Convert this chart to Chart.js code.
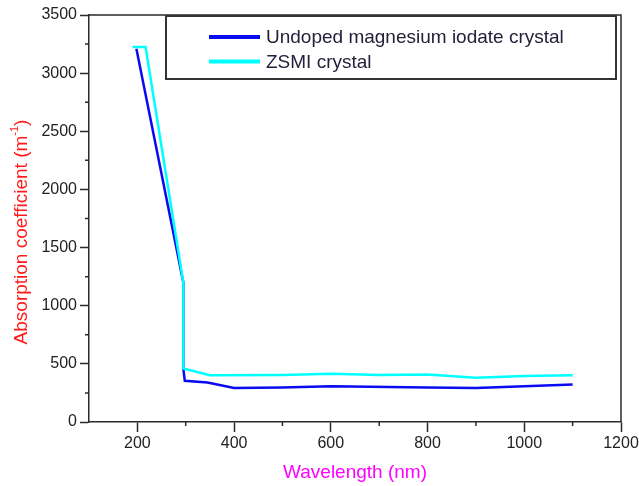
<!DOCTYPE html>
<html>
<head>
<meta charset="utf-8">
<script src="https://cdn.jsdelivr.net/npm/chart.js@4"></script>
<style>
  html, body { margin: 0; padding: 0; background: #fff; }
  #wrap { width: 639px; height: 486px; position: relative; }
</style>
</head>
<body>
<div id="wrap"><canvas id="chart"></canvas></div>
<script>
// values
const undopedWavelength = [198, 295, 295, 298, 345, 400, 500, 600, 800, 900, 1000, 1100];
const undopedAbsorption = [3210, 1200, 460, 355, 340, 292, 297, 307, 296, 293, 307, 322];
const zsmiWavelength = [190, 217, 295, 295, 350, 500, 600, 700, 800, 900, 1000, 1100];
const zsmiAbsorption = [3225, 3225, 1200, 460, 402, 405, 415, 405, 408, 380, 396, 402];
const seriesLabels = ['Undoped magnesium iodate crystal', 'ZSMI crystal'];
const xTickValues = [200, 400, 600, 800, 1000, 1200];
const xMinorValues = [300, 500, 700, 900, 1100];
const yTickValues = [0, 500, 1000, 1500, 2000, 2500, 3000, 3500];
const yMinorValues = [250, 750, 1250, 1750, 2250, 2750, 3250];

const FONT = '"Liberation Sans", Arial, sans-serif';
const AXIS = '#2a2a2a';

const toPoints = (xs, ys) => xs.map((x, i) => ({ x, y: ys[i] }));

// frame, minor ticks, axis titles and the boxed legend
const decor = {
  id: 'decor',
  afterDraw(chart) {
    const { ctx, chartArea: a, scales } = chart;
    ctx.save();
    ctx.strokeStyle = AXIS;
    ctx.lineWidth = 1.5;
    ctx.beginPath();
    ctx.moveTo(a.left, a.top);
    ctx.lineTo(a.right, a.top);
    ctx.lineTo(a.right, a.bottom);
    ctx.stroke();

    ctx.beginPath();
    xMinorValues.forEach(v => {
      const px = scales.x.getPixelForValue(v);
      ctx.moveTo(px, a.bottom);
      ctx.lineTo(px, a.bottom + 4);
    });
    yMinorValues.forEach(v => {
      const py = scales.y.getPixelForValue(v);
      ctx.moveTo(a.left, py);
      ctx.lineTo(a.left - 4, py);
    });
    ctx.stroke();

    // x title
    ctx.fillStyle = '#ff00ff';
    ctx.font = '19px ' + FONT;
    ctx.textAlign = 'center';
    ctx.textBaseline = 'middle';
    ctx.fillText('Wavelength (nm)', (a.left + a.right) / 2, 473);

    // y title with superscript
    ctx.save();
    ctx.translate(22, 232);
    ctx.rotate(-Math.PI / 2);
    ctx.fillStyle = '#ff1a1a';
    const main = 'Absorption coefficient (m';
    const sup = '-1';
    ctx.font = '19px ' + FONT;
    const w1 = ctx.measureText(main).width;
    const w3 = ctx.measureText(')').width;
    ctx.font = '11px ' + FONT;
    const w2 = ctx.measureText(sup).width;
    let x0 = -(w1 + w2 + w3) / 2;
    ctx.textAlign = 'left';
    ctx.font = '19px ' + FONT;
    ctx.fillText(main, x0, 0);
    ctx.font = '11px ' + FONT;
    ctx.fillText(sup, x0 + w1, -7);
    ctx.font = '19px ' + FONT;
    ctx.fillText(')', x0 + w1 + w2, 0);
    ctx.restore();

    // legend box
    const bx = a.left + 77, by = a.top + 1, bw = a.right - 5 - bx, bh = 63;
    ctx.fillStyle = '#fff';
    ctx.fillRect(bx, by, bw, bh);
    ctx.strokeStyle = '#333';
    ctx.lineWidth = 2;
    ctx.strokeRect(bx, by, bw, bh);
    chart.data.datasets.forEach((ds, i) => {
      const ly = by + 21 + i * 24.5;
      ctx.strokeStyle = ds.borderColor;
      ctx.lineWidth = 4;
      ctx.beginPath();
      ctx.moveTo(bx + 43, ly);
      ctx.lineTo(bx + 94, ly);
      ctx.stroke();
      ctx.fillStyle = '#22223a';
      ctx.font = '19px ' + FONT;
      ctx.textAlign = 'left';
      ctx.textBaseline = 'middle';
      ctx.fillText(ds.label, bx + 100, ly + 1);
    });
    ctx.restore();
  }
};

new Chart(document.getElementById('chart'), {
  type: 'line',
  data: {
    datasets: [
      {
        label: seriesLabels[0],
        data: toPoints(undopedWavelength, undopedAbsorption),
        borderColor: '#0a0af0',
        borderWidth: 2.5,
        pointRadius: 0,
        tension: 0,
        order: 1
      },
      {
        label: seriesLabels[1],
        data: toPoints(zsmiWavelength, zsmiAbsorption),
        borderColor: '#00ffff',
        borderWidth: 2.5,
        pointRadius: 0,
        tension: 0,
        order: 0
      }
    ]
  },
  options: {
    responsive: true,
    maintainAspectRatio: false,
    animation: false,
    layout: { padding: { top: 15, right: 18, left: 0, bottom: 0 } },
    plugins: { legend: { display: false }, tooltip: { enabled: false } },
    scales: {
      x: {
        type: 'linear',
        min: 100,
        max: 1200,
        afterBuildTicks: s => { s.ticks = xTickValues.map(v => ({ value: v })); },
        afterFit: s => { s.height = 64; s.paddingRight = 0; },
        ticks: { color: '#222', font: { family: FONT, size: 16 }, padding: 2, maxRotation: 0, autoSkip: false, callback: v => String(v) },
        grid: { drawOnChartArea: false, tickLength: 10, tickColor: AXIS, tickWidth: 1.5 },
        border: { color: AXIS, width: 1.5 }
      },
      y: {
        min: 0,
        max: 3500,
        afterBuildTicks: s => { s.ticks = yTickValues.map(v => ({ value: v })); },
        afterFit: s => { s.width = 89; },
        ticks: { color: '#222', font: { family: FONT, size: 16 }, padding: 3, autoSkip: false, callback: v => String(v) },
        grid: { drawOnChartArea: false, tickLength: 9, tickColor: AXIS, tickWidth: 1.5 },
        border: { color: AXIS, width: 1.5 }
      }
    }
  },
  plugins: [decor]
});
</script>
</body>
</html>
